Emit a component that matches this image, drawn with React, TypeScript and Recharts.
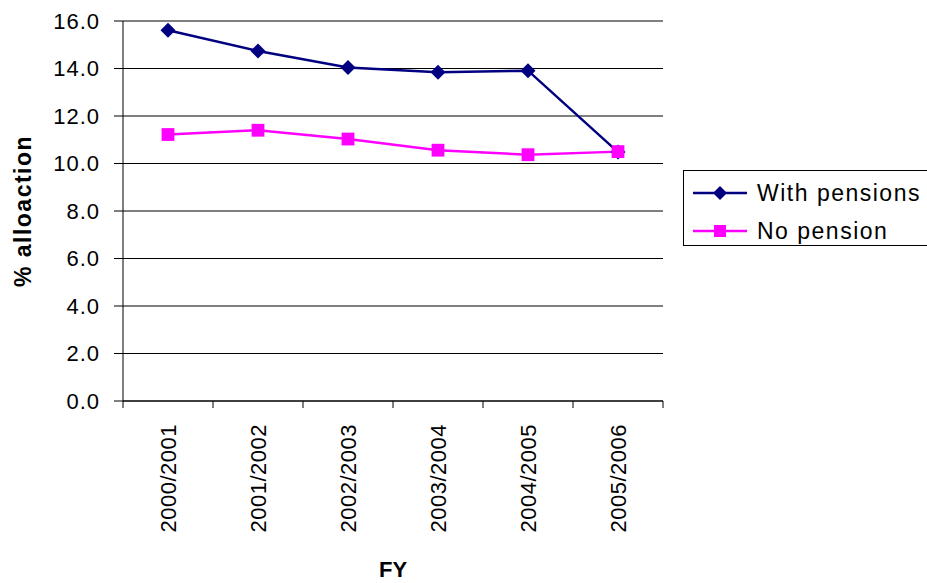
import { LineChart, Line, XAxis, YAxis, CartesianGrid, Legend } from "recharts";

const categories = ["2000/2001", "2001/2002", "2002/2003", "2003/2004", "2004/2005", "2005/2006"];
const withPensions = [15.61, 14.74, 14.04, 13.84, 13.91, 10.48];
const noPension = [11.22, 11.4, 11.03, 10.56, 10.37, 10.5];
const yTicks = [0, 2, 4, 6, 8, 10, 12, 14, 16];

const data = categories.map((fy, i) => ({
    fy,
    withPensions: withPensions[i],
    noPension: noPension[i],
}));

const FONT = '"Liberation Sans", Arial, sans-serif';
const X_TICK_GAP = 23;

const Diamond = ({ cx, cy, r = 7.5, fill }: any) => (
    <polygon points={`${cx},${cy - r} ${cx + r},${cy} ${cx},${cy + r} ${cx - r},${cy}`} fill={fill} />
);

const Square = ({ cx, cy, s = 6.4, fill }: any) => (
    <rect x={cx - s} y={cy - s} width={s * 2} height={s * 2} fill={fill} />
);

// labels sit at band centres; tick marks go on the band edges
const XTick = ({ x, y, payload, index, visibleTicksCount, width }: any) => {
    const half = payload?.offset || (width && visibleTicksCount ? width / visibleTicksCount / 2 : 45);
    const axisY = y - X_TICK_GAP;
    const last = index === visibleTicksCount - 1;
    return (
        <g>
            <line x1={x - half} y1={axisY} x2={x - half} y2={axisY + 7} stroke="#000" />
            {last && <line x1={x + half} y1={axisY} x2={x + half} y2={axisY + 7} stroke="#000" />}
            <text
                x={x}
                y={y}
                transform={`rotate(-90, ${x}, ${y})`}
                textAnchor="end"
                dy={8}
                fontSize={22}
                letterSpacing={0.5}
                fontFamily={FONT}
                fill="#000"
            >
                {payload.value}
            </text>
        </g>
    );
};

const LegendBox = () => (
    <div
        style={{
            border: "1px solid #000",
            width: 250,
            height: 76,
            boxSizing: "border-box",
            paddingTop: 3,
            fontFamily: FONT,
            fontSize: 23,
            letterSpacing: 1.5,
            color: "#000",
            background: "#fff",
        }}
    >
        {[
            { name: "With pensions", color: "#000080", shape: "d" },
            { name: "No pension", color: "#FF00FF", shape: "s" },
        ].map((it) => (
            <div key={it.name} style={{ display: "flex", alignItems: "center", height: 38 }}>
                <svg width={62} height={20} style={{ marginLeft: 9, marginRight: 2 }}>
                    <line x1={0} y1={10} x2={54} y2={10} stroke={it.color} strokeWidth={2.5} />
                    {it.shape === "d" ? (
                        <Diamond cx={27} cy={10} r={7} fill={it.color} />
                    ) : (
                        <Square cx={27} cy={10} s={6} fill={it.color} />
                    )}
                </svg>
                <span style={{ lineHeight: "38px" }}>{it.name}</span>
            </div>
        ))}
    </div>
);

export default function App() {
    return (
        <div style={{ position: "absolute", left: 0, top: 0, width: 927, height: 583, overflow: "hidden", background: "#fff" }}>
            <LineChart width={927} height={583} data={data} margin={{ top: 21, right: 14, bottom: 0, left: 0 }}>
                <CartesianGrid vertical={false} stroke="#000" strokeWidth={1} />
                <XAxis
                    dataKey="fy"
                    scale="band"
                    height={182}
                    tickLine={false}
                    tickSize={0}
                    tickMargin={X_TICK_GAP}
                    axisLine={{ stroke: "#000" }}
                    interval={0}
                    tick={<XTick />}
                    label={{
                        content: ({ viewBox }: any) => (
                            <text
                                x={viewBox.x + viewBox.width / 2}
                                y={577}
                                textAnchor="middle"
                                fontSize={22}
                                fontWeight="bold"
                                fontFamily={FONT}
                                fill="#000"
                            >
                                FY
                            </text>
                        ),
                    }}
                />
                <YAxis
                    width={123}
                    domain={[0, 16]}
                    ticks={yTicks}
                    tickFormatter={(v: number) => v.toFixed(1)}
                    tickSize={9}
                    tickMargin={14}
                    tickLine={{ stroke: "#000" }}
                    axisLine={{ stroke: "#000" }}
                    tick={{ fontSize: 22, fill: "#000", fontFamily: FONT, letterSpacing: 1 }}
                    label={{
                        content: ({ viewBox }: any) => {
                            const cy = viewBox.y + viewBox.height / 2;
                            return (
                                <text
                                    x={31}
                                    y={cy}
                                    transform={`rotate(-90, 31, ${cy})`}
                                    textAnchor="middle"
                                    fontSize={23}
                                    fontWeight="bold"
                                    letterSpacing={1.5}
                                    fontFamily={FONT}
                                    fill="#000"
                                >
                                    % alloaction
                                </text>
                            );
                        },
                    }}
                />
                <Legend
                    layout="vertical"
                    align="right"
                    verticalAlign="middle"
                    content={<LegendBox />}
                    wrapperStyle={{ position: "absolute", left: 683, top: 170, width: 250 }}
                />
                <Line
                    dataKey="withPensions"
                    name="With pensions"
                    stroke="#000080"
                    strokeWidth={2.5}
                    dot={(p: any) => <Diamond key={p.index} cx={p.cx} cy={p.cy} fill="#000080" />}
                    isAnimationActive={false}
                />
                <Line
                    dataKey="noPension"
                    name="No pension"
                    stroke="#FF00FF"
                    strokeWidth={2.5}
                    dot={(p: any) => <Square key={p.index} cx={p.cx} cy={p.cy} fill="#FF00FF" />}
                    isAnimationActive={false}
                />
            </LineChart>
        </div>
    );
}
